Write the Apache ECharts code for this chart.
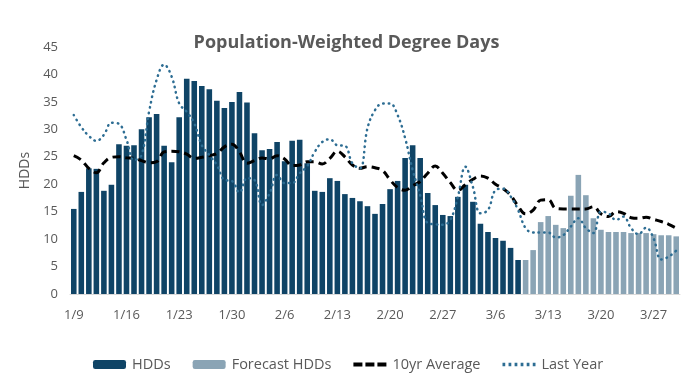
<!DOCTYPE html>
<html>
<head>
<meta charset="utf-8">
<script src="https://cdn.jsdelivr.net/npm/echarts@6/dist/echarts.min.js"></script>
<style>html,body{margin:0;padding:0;background:#fff}#c{width:693px;height:385px}</style>
</head>
<body>
<div id="c"></div>
<script>
var categories = ["1/9","1/10","1/11","1/12","1/13","1/14","1/15","1/16","1/17","1/18","1/19","1/20","1/21","1/22","1/23","1/24","1/25","1/26","1/27","1/28","1/29","1/30","1/31",
"2/1","2/2","2/3","2/4","2/5","2/6","2/7","2/8","2/9","2/10","2/11","2/12","2/13","2/14","2/15","2/16","2/17","2/18","2/19","2/20","2/21","2/22","2/23","2/24","2/25","2/26","2/27","2/28",
"3/1","3/2","3/3","3/4","3/5","3/6","3/7","3/8","3/9","3/10","3/11","3/12","3/13","3/14","3/15","3/16","3/17","3/18","3/19","3/20","3/21","3/22","3/23","3/24","3/25","3/26","3/27","3/28","3/29","3/30"];

var hdds = [15.5,18.6,22.9,22.8,18.8,19.9,27.3,27.0,27.1,30.0,32.2,32.8,27.0,24.0,32.2,39.2,38.8,37.9,37.3,35.2,
33.9,35.0,36.8,34.9,29.3,26.2,26.4,27.7,24.2,27.9,28.1,23.8,18.8,18.6,21.1,20.6,18.2,17.5,16.9,16.0,
14.6,16.4,19.1,20.6,24.8,27.1,24.8,18.4,16.2,14.4,14.2,17.7,19.9,16.8,12.8,11.3,10.2,9.7,8.4,6.2,
null,null,null,null,null,null,null,null,null,null,null,null,null,null,null,null,null,null,null,null,null];

var forecast = [null,null,null,null,null,null,null,null,null,null,null,null,null,null,null,null,null,null,null,null,
null,null,null,null,null,null,null,null,null,null,null,null,null,null,null,null,null,null,null,null,
null,null,null,null,null,null,null,null,null,null,null,null,null,null,null,null,null,null,null,null,
6.2,8.0,13.1,14.2,12.6,12.0,17.9,21.7,18.0,13.8,11.7,11.3,11.3,11.3,11.1,11.1,11.1,10.9,10.7,10.7,10.5];

var avg10 = [25.2,24.4,22.9,22.1,23.9,24.9,25.0,24.8,24.7,24.3,23.9,24.1,25.9,26.0,25.9,25.5,24.7,24.9,25.2,25.6,
26.8,27.3,25.9,23.8,24.3,24.8,24.6,25.2,24.6,23.4,23.5,24.1,24.1,23.7,24.7,26.0,25.0,23.5,22.9,23.2,
23.0,22.5,20.8,19.4,18.9,19.7,20.5,22.0,23.3,22.0,20.3,18.9,19.9,20.9,21.5,21.1,20.0,19.2,18.0,16.0,
14.6,15.3,17.1,17.2,15.6,15.5,15.5,15.5,15.5,15.9,14.6,14.1,15.0,14.7,13.9,13.8,14.0,13.6,13.2,12.7,12.0];

var lastYear = [32.6,30.4,28.8,27.9,29.0,31.2,31.0,28.1,24.4,25.3,33.2,39.0,41.8,39.6,34.7,33.2,31.1,27.1,25.3,23.5,
20.8,20.6,18.5,21.1,20.8,16.2,18.3,21.7,20.2,20.2,22.0,23.3,25.9,27.7,28.2,27.1,27.0,23.8,22.9,30.2,
33.5,34.7,34.7,32.6,28.4,22.6,18.0,12.9,12.7,12.6,13.5,17.7,23.2,19.5,14.7,15.3,18.9,19.2,17.8,15.3,
12.0,11.2,11.2,11.2,10.3,10.7,12.3,13.8,12.0,11.1,15.0,14.7,13.5,14.1,12.0,10.9,12.1,10.1,6.3,6.8,7.9];

var yTicks = [0,5,10,15,20,25,30,35,40,45];

var txt = '#595959';
var font = '"Open Sans", "Noto Sans", sans-serif';
var dashIcon = 'path://M0,0h9v4h-9z M12,0h9v4h-9z M24,0h9v4h-9z';
var dotIcon = 'path://M0,0h2.5v3h-2.5z M5.5,0h2.5v3h-2.5z M11,0h2.5v3h-2.5z M16.5,0h2.5v3h-2.5z M22,0h2.5v3h-2.5z M27.5,0h2.5v3h-2.5z';
var chart = echarts.init(document.getElementById('c'), null, {renderer:'canvas'});
chart.setOption({
  animation:false,
  backgroundColor:'#ffffff',
  title:{text:'Population-Weighted Degree Days',left:'center',top:29,
    textStyle:{fontFamily:font,fontSize:18,fontWeight:'bold',color:txt}},
  legend:{bottom:8,left:88,itemWidth:33,itemHeight:9,itemGap:22,
    textStyle:{fontFamily:font,fontSize:14.5,color:txt,padding:[0,0,0,1]},
    data:[{name:'HDDs'},{name:'Forecast HDDs'},
      {name:'10yr Average',icon:dashIcon,itemStyle:{color:'#000000'}},
      {name:'Last Year',icon:dotIcon,itemStyle:{color:'#2d6d93'}}]},
  grid:{left:70,right:13,top:47,bottom:91},
  xAxis:{type:'category',data:categories,boundaryGap:true,
    axisLine:{lineStyle:{color:'#d9d9d9',width:1}},axisTick:{show:false},
    axisLabel:{interval:6,color:txt,fontFamily:font,fontSize:13,margin:15}},
  yAxis:{type:'value',min:yTicks[0],max:yTicks[yTicks.length-1],interval:5,
    name:'HDDs',nameLocation:'middle',nameGap:37,nameRotate:90,
    nameTextStyle:{color:txt,fontFamily:font,fontSize:14},
    axisLine:{show:false},axisTick:{show:false},splitLine:{show:false},
    axisLabel:{color:txt,fontFamily:font,fontSize:13,margin:12}},
  series:[
    {name:'HDDs',type:'bar',data:hdds,barWidth:'74%',barGap:'-100%',itemStyle:{color:'#0f4466'}},
    {name:'Forecast HDDs',type:'bar',data:forecast,barWidth:'74%',barGap:'-100%',itemStyle:{color:'#8aa4b5'}},
    {name:'10yr Average',type:'line',data:avg10,smooth:0.4,symbol:'none',z:4,
      itemStyle:{color:'#000000'},
      lineStyle:{color:'#000000',width:3,type:[8,5]}},
    {name:'Last Year',type:'line',data:lastYear,smooth:0.4,symbol:'none',z:5,
      itemStyle:{color:'#2d6d93'},
      lineStyle:{color:'#2d6d93',width:2.5,type:[0.5,5],cap:'round'}}
  ]
});
</script>
</body>
</html>
